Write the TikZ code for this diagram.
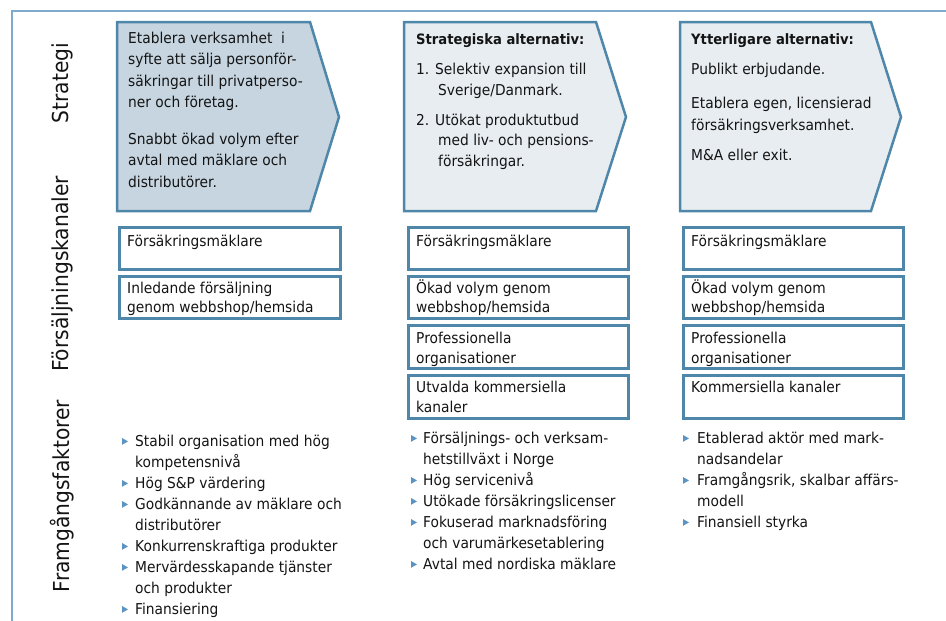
\documentclass[tikz,border=0pt]{standalone}
\usepackage{fontspec}
\setmainfont{DejaVu Sans}[FakeStretch=0.92]
\usetikzlibrary{calc}
\definecolor{frameblue}{HTML}{7FAACB}
\definecolor{edgeblue}{HTML}{4F87AA}
\definecolor{darkfill}{HTML}{C6D5E0}
\definecolor{lightfill}{HTML}{E8EDF1}
\definecolor{bulletblue}{HTML}{5B93C2}
\definecolor{ink}{HTML}{141414}
\newcommand\bul[2]{\fill[bulletblue] (#1,#2-8) -- ++(6,3.4) -- ++(-6,3.4) -- cycle;}
\begin{document}
\begin{tikzpicture}[x=1pt,y=-1pt,
  txt/.style={anchor=base west, inner sep=0pt, font=\fontsize{15}{21}\selectfont, text=ink},
  boldtxt/.style={txt, font=\fontsize{14.3}{21}\selectfont\bfseries},
  chev/.style={draw=edgeblue, line width=2.5pt, line join=miter},
  chanbox/.style={draw=edgeblue, line width=2.5pt, rectangle, inner sep=0pt, anchor=north west, minimum width=221pt},
  rowlabel/.style={rotate=90, font=\fontsize{22}{22}\selectfont, text=ink, inner sep=0pt}
]
\useasboundingbox (0,0) rectangle (946,621);
% frame
\draw[frameblue, line width=2pt] (12,621) -- (12,11) -- (946,11);
% row labels
\node[rowlabel] (lblstrat) at (62,83) {Strategi};
\node[rowlabel] (lblkan) at (62,274) {Försäljningskanaler};
\node[rowlabel] (lblfakt) at (62,496) {Framgångsfaktorer};
% chevrons
\draw[chev, fill=darkfill] (117,22) -- (310,22) -- (339,117) -- (310,211) -- (117,211) -- cycle;
\draw[chev, fill=lightfill] (404,22) -- (596,22) -- (626,117) -- (596,211) -- (404,211) -- cycle;
\draw[chev, fill=lightfill] (680,22) -- (871,22) -- (901,117) -- (871,211) -- (680,211) -- cycle;
% chevron 1 text
\node[txt] (a1l1) at (128,43) {Etablera verksamhet~ i};
\node[txt] (a1l2) at (128,64.5) {syfte att sälja personför-};
\node[txt] (a1l3) at (128,86) {säkringar till privatperso-};
\node[txt] (a1l4) at (128,107.5) {ner och företag.};
\node[txt] (a1l5) at (128,144) {Snabbt ökad volym efter};
\node[txt] (a1l6) at (128,165.5) {avtal med mäklare och};
\node[txt] (a1l7) at (128,187) {distributörer.};
% chevron 2 text
\node[boldtxt] (a2t) at (416,44) {Strategiska alternativ:};
\node[txt] (a2l1) at (416,74) {1. Selektiv expansion till};
\node[txt] (a2l2) at (438,95) {Sverige/Danmark.};
\node[txt] (a2l3) at (416,125) {2. Utökat produktutbud};
\node[txt] (a2l4) at (438,145.5) {med liv- och pensions-};
\node[txt] (a2l5) at (438,166) {försäkringar.};
% chevron 3 text
\node[boldtxt] (a3t) at (691,44) {Ytterligare alternativ:};
\node[txt] (a3l1) at (691,74) {Publikt erbjudande.};
\node[txt] (a3l2) at (691,108) {Etablera egen, licensierad};
\node[txt] (a3l3) at (691,130) {försäkringsverksamhet.};
\node[txt] (a3l4) at (691,160) {M\&A eller exit.};
% channel boxes column 1
\node[chanbox, minimum height=42pt] (k1a) at (118,226) {};
\node[chanbox, minimum height=42pt] (k1b) at (118,275) {};
\node[txt] (k1at) at (127,246) {Försäkringsmäklare};
\node[txt] (k1bt1) at (127,293) {Inledande försäljning};
\node[txt] (k1bt2) at (127,312) {genom webbshop/hemsida};
% column 2
\node[chanbox, minimum width=220pt, minimum height=42pt] (k2a) at (407,226) {};
\node[chanbox, minimum width=220pt, minimum height=42pt] (k2b) at (407,275) {};
\node[chanbox, minimum width=220pt, minimum height=43pt] (k2c) at (407,324) {};
\node[chanbox, minimum width=220pt, minimum height=43pt] (k2d) at (407,374) {};
\node[txt] (k2at) at (416,246) {Försäkringsmäklare};
\node[txt] (k2bt1) at (416,293) {Ökad volym genom};
\node[txt] (k2bt2) at (416,312) {webbshop/hemsida};
\node[txt] (k2ct1) at (416,343) {Professionella};
\node[txt] (k2ct2) at (416,363) {organisationer};
\node[txt] (k2dt1) at (416,392) {Utvalda kommersiella};
\node[txt] (k2dt2) at (416,412) {kanaler};
% column 3
\node[chanbox, minimum width=220pt, minimum height=42pt] (k3a) at (682,226) {};
\node[chanbox, minimum width=220pt, minimum height=42pt] (k3b) at (682,275) {};
\node[chanbox, minimum width=220pt, minimum height=43pt] (k3c) at (682,324) {};
\node[chanbox, minimum width=220pt, minimum height=43pt] (k3d) at (682,374) {};
\node[txt] (k3at) at (691,246) {Försäkringsmäklare};
\node[txt] (k3bt1) at (691,293) {Ökad volym genom};
\node[txt] (k3bt2) at (691,312) {webbshop/hemsida};
\node[txt] (k3ct1) at (691,343) {Professionella};
\node[txt] (k3ct2) at (691,363) {organisationer};
\node[txt] (k3dt1) at (691,392) {Kommersiella kanaler};
% success factors column 1
\bul{122}{446}\bul{122}{488}\bul{122}{509}\bul{122}{551}\bul{122}{572}\bul{122}{614}
\node[txt] (f1l1) at (135,446) {Stabil organisation med hög};
\node[txt] (f1l2) at (135,467) {kompetensnivå};
\node[txt] (f1l3) at (135,488) {Hög S\&P värdering};
\node[txt] (f1l4) at (135,509) {Godkännande av mäklare och};
\node[txt] (f1l5) at (135,530) {distributörer};
\node[txt] (f1l6) at (135,551) {Konkurrenskraftiga produkter};
\node[txt] (f1l7) at (135,572) {Mervärdesskapande tjänster};
\node[txt] (f1l8) at (135,593) {och produkter};
\node[txt] (f1l9) at (135,614) {Finansiering};
% column 2
\bul{411}{443}\bul{411}{485}\bul{411}{506}\bul{411}{527}\bul{411}{569}
\node[txt] (f2l1) at (423,443) {Försäljnings- och verksam-};
\node[txt] (f2l2) at (423,464) {hetstillväxt i Norge};
\node[txt] (f2l3) at (423,485) {Hög servicenivå};
\node[txt] (f2l4) at (423,506) {Utökade försäkringslicenser};
\node[txt] (f2l5) at (423,527) {Fokuserad marknadsföring};
\node[txt] (f2l6) at (423,548) {och varumärkesetablering};
\node[txt] (f2l7) at (423,569) {Avtal med nordiska mäklare};
% column 3
\bul{683}{443}\bul{683}{485}\bul{683}{527}
\node[txt] (f3l1) at (697,443) {Etablerad aktör med mark-};
\node[txt] (f3l2) at (697,464) {nadsandelar};
\node[txt] (f3l3) at (697,485) {Framgångsrik, skalbar affärs-};
\node[txt] (f3l4) at (697,506) {modell};
\node[txt] (f3l5) at (697,527) {Finansiell styrka};
\end{tikzpicture}
\end{document}
